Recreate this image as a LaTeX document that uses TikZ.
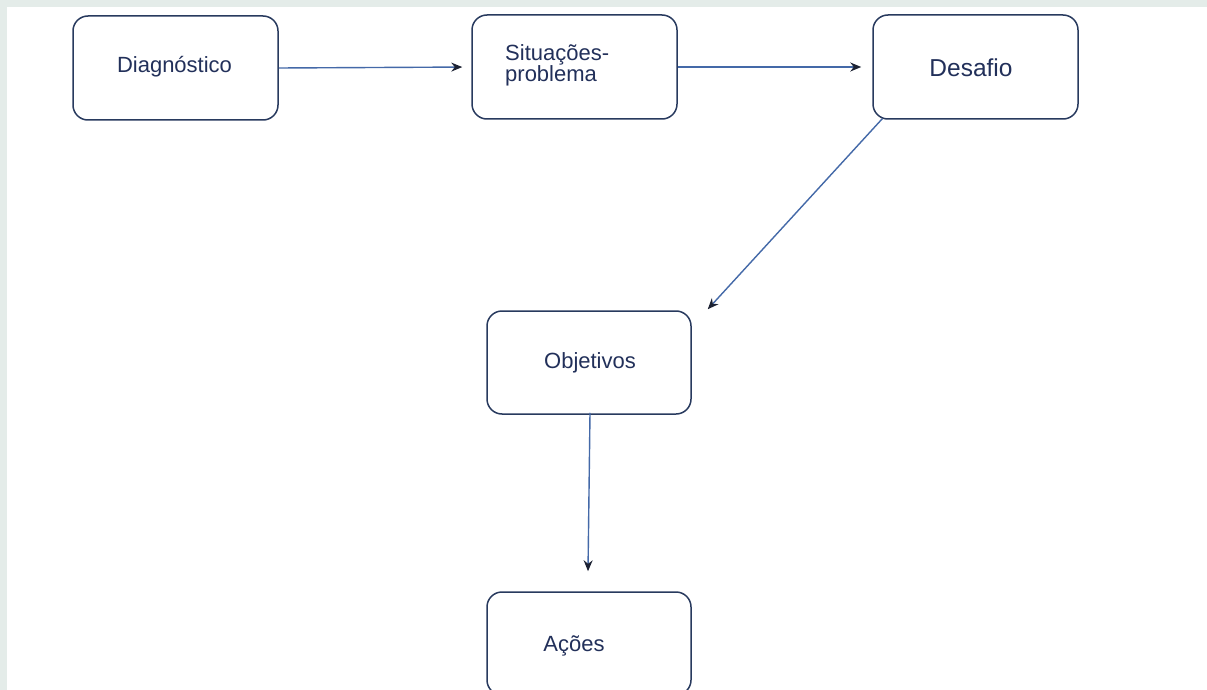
\documentclass[tikz,border=0pt]{standalone}
\usepackage{fontspec}
\setmainfont{Liberation Sans}
\usetikzlibrary{arrows.meta,calc}
\definecolor{bgstrip}{HTML}{E4ECE9}
\definecolor{boxline}{HTML}{283A5E}
\definecolor{arrline}{HTML}{4469A8}
\definecolor{tipcol}{HTML}{1C2233}
\definecolor{txt}{HTML}{22305A}
\tikzset{
  box/.style={draw=boxline, line width=1.5pt, rounded corners=15pt, fill=white,
    minimum width=205pt, minimum height=104pt, inner sep=0pt},
  lbl/.style={text=txt, font=\fontsize{22}{21}\selectfont, inner sep=0pt},
  conn/.style={draw=arrline, line width=1.4pt, -{Stealth[length=11pt,width=9pt,fill=tipcol,color=tipcol]}}
}
\begin{document}
\begin{tikzpicture}[x=1pt,y=-1pt]
\useasboundingbox (0,0) rectangle (1207,690);
\fill[bgstrip] (0,0) rectangle (1207,690);
\fill[white] (7,7) rectangle (1207,690);
\begin{scope}
\clip (0,0) rectangle (1207,690);
\node[box] (dia) at (175.5,68) {};
\node[box] (sit) at (574.5,67) {};
\node[box] (des) at (975.5,67) {};
\node[box, minimum width=204pt, minimum height=103pt] (obj) at (589,362.5) {};
\node[box, minimum width=204pt, minimum height=103pt] (aco) at (589,643.5) {};
\end{scope}
\node[lbl] (tdia) at (174.5,67) {Diagnóstico};
\node[lbl, align=left, anchor=west] (tsit) at (505,65.5) {Situações-\\problema};
\node[lbl, font=\fontsize{24.5}{24}\selectfont] (tdes) at (971,68) {Desafio};
\node[lbl] (tobj) at (590,362.5) {Objetivos};
\node[lbl] (taco) at (574,646) {Ações};
\draw[conn, shorten >=9pt] (dia.east) -- (sit.west);
\draw[conn, shorten >=11pt] (sit.east) -- (des.west);
\draw[conn] ($(des.south west)+(10,-1)$) -- ($(obj.north east)+(16,-1)$);
\draw[conn] ($(obj.south)+(1,-2)$) -- ($(aco.north)+(-1,-20)$);
\end{tikzpicture}
\end{document}
